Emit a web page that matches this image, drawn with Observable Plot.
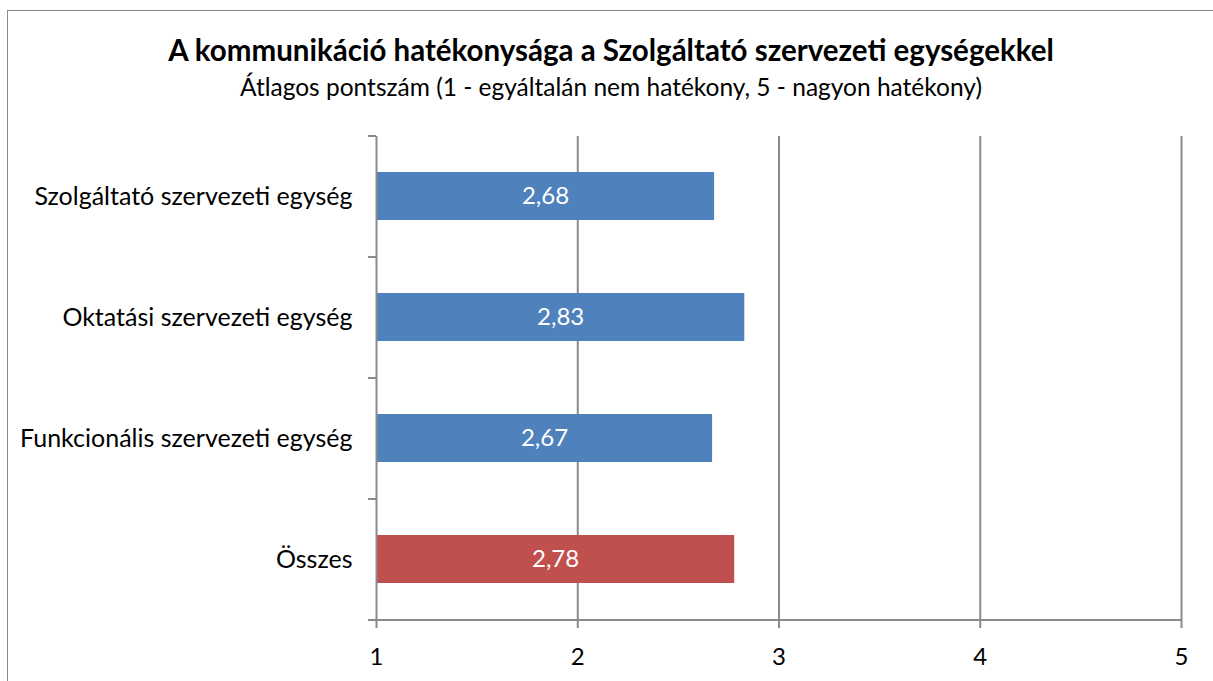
<!DOCTYPE html>
<html>
<head>
<meta charset="utf-8">
<script src="https://cdn.jsdelivr.net/npm/d3@7"></script>
<script src="https://cdn.jsdelivr.net/npm/@observablehq/plot@0.6"></script>
<style>
  html, body { margin: 0; padding: 0; background: #fff; overflow: hidden; }
  #wrap { position: relative; width: 1213px; height: 681px; font-family: Lato, "Open Sans", sans-serif; }
  #frame { position: absolute; left: 7px; top: 10px; width: 1220px; height: 700px; border: 1px solid #8a8a8a; box-sizing: border-box; }
  #title { position: absolute; left: 7px; width: 1208px; top: 34px; text-align: center; font-weight: bold; font-size: 29.5px; line-height: 32px; color: #000; }
  #subtitle { position: absolute; left: 7px; width: 1208px; top: 74px; text-align: center; font-size: 24.5px; line-height: 26px; color: #000; }
  #chart { position: absolute; left: 0; top: 120px; }
</style>
</head>
<body>
<div id="wrap">
  <div id="frame"></div>
  <div id="title">A kommunikáció hatékonysága a Szolgáltató szervezeti egységekkel</div>
  <div id="subtitle">Átlagos pontszám (1 - egyáltalán nem hatékony, 5 - nagyon hatékony)</div>
  <div id="chart"></div>
</div>
<script>
const categories = ["Szolgáltató szervezeti egység", "Oktatási szervezeti egység", "Funkcionális szervezeti egység", "Összes"];
const values = [2.68, 2.83, 2.67, 2.78];
const barColors = ["#4F81BD", "#4F81BD", "#4F81BD", "#C0504D"];
const xTicks = [1, 2, 3, 4, 5];

const data = categories.map((c, i) => ({category: c, value: values[i], color: barColors[i]}));
const fmt = v => v.toFixed(2).replace(".", ",");
const axisColor = "#8a8a8a";

const plot = Plot.plot({
  width: 1213,
  height: 561,
  marginLeft: 376,
  marginRight: 32,
  marginTop: 16,
  marginBottom: 61,
  style: {fontFamily: "Lato, 'Open Sans', sans-serif", fontSize: "25px", color: "#000", background: "transparent"},
  x: {domain: [xTicks[0], xTicks[xTicks.length - 1]]},
  y: {domain: categories, paddingInner: 0.6, paddingOuter: 0.3},
  marks: [
    Plot.ruleX(xTicks.slice(1), {stroke: axisColor, strokeWidth: 2}),
    Plot.barX(data, {y: "category", x1: () => xTicks[0], x2: "value", fill: "color"}),
    Plot.text(data, {y: "category", x: d => (xTicks[0] + d.value) / 2, text: d => fmt(d.value), fill: "#fff", fontSize: 24}),
    Plot.ruleX([xTicks[0]], {stroke: axisColor, strokeWidth: 2}),
    Plot.ruleY(categories, {y: d => d, x1: xTicks[0], x2: xTicks[0], insetLeft: -8, dy: -60.5, stroke: axisColor, strokeWidth: 2}),
    Plot.ruleY(categories.slice(-1), {y: d => d, x1: xTicks[0], x2: xTicks[xTicks.length - 1], insetLeft: -8, dy: 60.5, stroke: axisColor, strokeWidth: 2}),
    Plot.axisX({ticks: xTicks, tickSize: 8, tickPadding: 19, stroke: axisColor, strokeWidth: 2, tickFormat: d => String(d), label: null, fill: "#000", fontSize: 24}),
    Plot.axisY({tickSize: 0, tickPadding: 24, label: null, fill: "#000", fontSize: 25})
  ]
});
document.getElementById("chart").appendChild(plot);
</script>
</body>
</html>
